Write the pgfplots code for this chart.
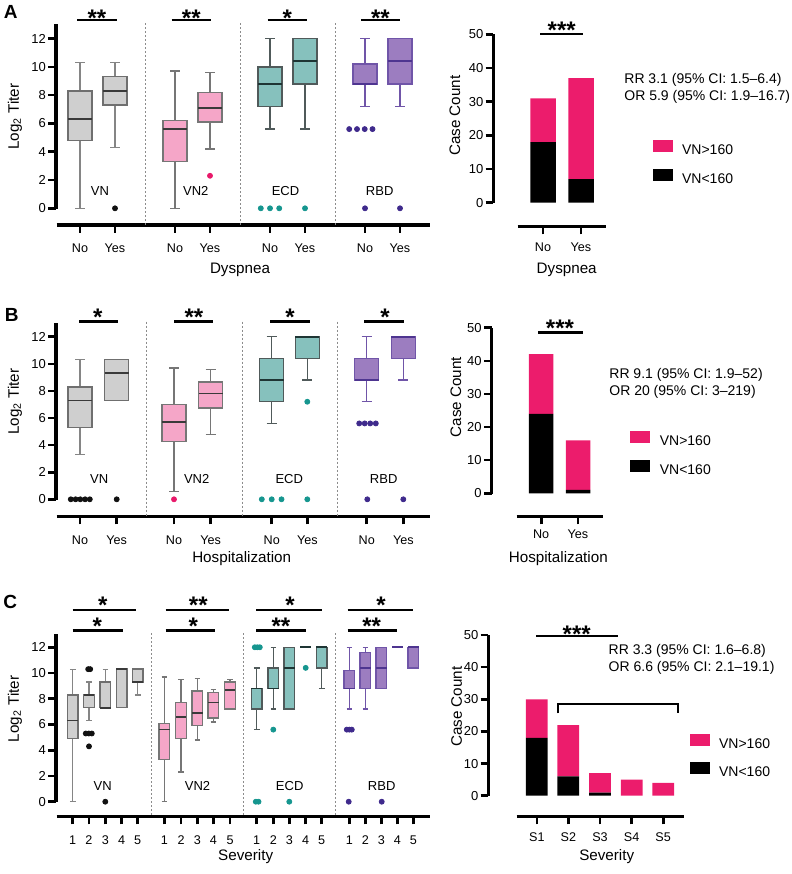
\documentclass[border=0pt]{standalone}
\usepackage{pgfplots}
\pgfplotsset{compat=1.18}
\usepackage{fontspec}
\setmainfont{Liberation Sans}
\definecolor{vnF}{HTML}{CFCFCF}
\definecolor{vnE}{HTML}{6F6F6F}
\definecolor{vnW}{HTML}{858585}
\definecolor{vnMd}{HTML}{3A3A3A}
\definecolor{vn2F}{HTML}{F5A6C8}
\definecolor{vn2E}{HTML}{767676}
\definecolor{ecdF}{HTML}{86C1BD}
\definecolor{ecdE}{HTML}{505A5A}
\definecolor{ecdMd}{HTML}{1E3534}
\definecolor{rbdF}{HTML}{9C7DC0}
\definecolor{rbdE}{HTML}{7055A8}
\definecolor{rbdMd}{HTML}{4E3590}
\definecolor{vnO}{HTML}{111111}
\definecolor{vn2O}{HTML}{E8196A}
\definecolor{ecdO}{HTML}{16968F}
\definecolor{rbdO}{HTML}{3F2A8C}
\definecolor{barP}{HTML}{EC1C6C}
\definecolor{sepC}{HTML}{8C8C8C}
\newcommand\fs[1]{\fontsize{#1}{#1}\selectfont}
% box: position, lower whisker, lower quartile, median, upper quartile, upper whisker, style prefix
\newcommand\bx[7]{%
  \pgfmathsetmacro\xl{#1-\bh}\pgfmathsetmacro\xr{#1+\bh}%
  \pgfmathsetmacro\cl{#1-\ch}\pgfmathsetmacro\cr{#1+\ch}%
  \addplot[#7SW] coordinates {(#1,#5) (#1,#6)};
  \addplot[#7SW] coordinates {(#1,#3) (#1,#2)};
  \addplot[#7SW] coordinates {(\cl,#6) (\cr,#6)};
  \addplot[#7SW] coordinates {(\cl,#2) (\cr,#2)};
  \addplot[#7SB] coordinates {(\xl,#3) (\xr,#3) (\xr,#5) (\xl,#5)} -- cycle;
  \addplot[#7SM] coordinates {(\xl,#4) (\xr,#4)};
}
\newcommand\stars[3]{\node[anchor=base, font=\fs{12}\bfseries, inner sep=0pt] at (#1,#2+13.8) {#3};}
\pgfplotsset{
  base/.style={scale only axis, clip=false, anchor=south west,
    axis x line*=bottom, axis y line*=left, axis line style={draw=none},
    tick align=outside, major tick length=3.8pt,
    tick style={black, line width=1.3pt},
    /pgf/number format/assume math mode=true,
    yticklabel style={font=\fs{6.5}, xshift=2.3pt},
    xticklabel style={font=\fs{6.3}},
  },
  boxax/.style={base, xmin=56, xmax=430, width=187pt, ymax=13, ytick={0,2,...,12},
    xticklabel style={yshift=-2.3pt}},
  barax/.style={base, ybar stacked, ymax=50, ytick={0,10,...,50},
    xticklabel style={yshift=-0.8pt},
    legend style={anchor=north west, draw=none, fill=none, inner sep=0pt, row sep=5.65pt, font=\fs{7}, nodes={inner xsep=4.7pt, inner ysep=0pt}},
    legend image code/.code={\fill[##1] (0pt,-0.5pt) rectangle (10pt,5.5pt);},
    reverse legend},
  vnSW/.style={draw=vnW, line width=0.65pt},
  vnSB/.style={fill=vnF, draw=vnE, line width=0.7pt},
  vnSM/.style={draw=vnMd, line width=0.8pt},
  vn2SW/.style={draw=vn2E, line width=0.65pt},
  vn2SB/.style={fill=vn2F, draw=vn2E, line width=0.7pt},
  vn2SM/.style={draw=vnMd, line width=0.8pt},
  ecdSW/.style={draw=ecdE, line width=0.65pt},
  ecdSB/.style={fill=ecdF, draw=ecdE, line width=0.7pt},
  ecdSM/.style={draw=ecdMd, line width=0.8pt},
  rbdSW/.style={draw=rbdE, line width=0.65pt},
  rbdSB/.style={fill=rbdF, draw=rbdE, line width=0.7pt},
  rbdSM/.style={draw=rbdMd, line width=0.8pt},
  outl/.style={only marks, mark=*, mark size=1.25pt},
}
\begin{document}
\begin{tikzpicture}
\useasboundingbox (0,0) rectangle (396pt,-437pt);
% ---------------- Panel A box plots
\def\bh{12}\def\ch{5}
\begin{axis}[boxax, at={(56*0.5pt,-225*0.5pt)}, height=100.3pt, ymin=-1.18,
  xtick={80,115,175,210,270,305,365,400}, xticklabels={No,Yes,No,Yes,No,Yes,No,Yes}]
\bx{80}{0}{4.8}{6.3}{8.3}{10.3}{vn}
\bx{115}{4.3}{7.3}{8.3}{9.3}{10.3}{vn}
\bx{175}{0}{3.3}{5.6}{6.2}{9.7}{vn2}
\bx{210}{4.2}{6.1}{7.1}{8.2}{9.6}{vn2}
\bx{270}{5.6}{7.2}{8.8}{10.0}{12}{ecd}
\bx{305}{5.6}{8.8}{10.4}{12}{12}{ecd}
\bx{365}{7.2}{8.8}{8.8}{10.2}{12}{rbd}
\bx{400}{7.2}{8.8}{10.4}{12}{12}{rbd}
\addplot[outl, color=vnO] coordinates {(115,0)};
\addplot[outl, color=vn2O] coordinates {(210,2.3)};
\addplot[outl, color=ecdO] coordinates {(260.8,0) (270,0) (279.2,0) (305,0)};
\addplot[outl, color=rbdO] coordinates {(349.2,5.6) (357,5.6) (364.7,5.6) (372.5,5.6) (365,0) (400,0)};
\end{axis}
% ---------------- Panel A bars
\begin{axis}[barax, at={(493.3*0.5pt,-226.7*0.5pt)}, width=56.35pt, height=96.2pt,
  xmin=493.3, xmax=606, ymin=-7.126, bar width=25.5,
  xtick={543,581}, xticklabels={No,Yes},
  legend style={at={(1.411,0.4506)}}]
\addplot[fill=black, draw=none] coordinates {(543,18) (581,7)};
\addplot[fill=barP, draw=none] coordinates {(543,13) (581,30)};
\legend{VN<160,VN>160}
\end{axis}
% ---------------- Panel B box plots
\begin{axis}[boxax, at={(56*0.5pt,-516.7*0.5pt)}, height=96.78pt, ymin=-1.284,
  xtick={80,116.7,174,210.7,271.7,307.3,366.7,403.3}, xticklabels={No,Yes,No,Yes,No,Yes,No,Yes}]
\bx{80}{3.3}{5.3}{7.3}{8.3}{10.3}{vn}
\bx{116.7}{7.3}{7.3}{9.3}{10.3}{10.3}{vn}
\bx{174}{0.56}{4.25}{5.7}{7.0}{9.7}{vn2}
\bx{210.7}{4.8}{6.75}{7.8}{8.65}{9.6}{vn2}
\bx{271.7}{5.6}{7.2}{8.8}{10.4}{12}{ecd}
\bx{307.3}{8.8}{10.4}{12}{12}{12}{ecd}
\bx{366.7}{7.2}{8.8}{8.8}{10.4}{12}{rbd}
\bx{403.3}{8.8}{10.4}{12}{12}{12}{rbd}
\addplot[outl, color=vnO] coordinates {(70.8,0) (75.6,0) (80.3,0) (85.1,0) (89.8,0) (116.7,0)};
\addplot[outl, color=vn2O] coordinates {(174,0)};
\addplot[outl, color=ecdO] coordinates {(261.8,0) (271.7,0) (281.5,0) (307.3,7.2) (307.3,0)};
\addplot[outl, color=rbdO] coordinates {(359.2,5.6) (364.7,5.6) (370.2,5.6) (375.8,5.6) (367.3,0) (403.3,0)};
\end{axis}
% ---------------- Panel B bars
\begin{axis}[barax, at={(491.7*0.5pt,-516.7*0.5pt)}, width=55.5pt, height=94.5pt,
  xmin=491.7, xmax=602.7, ymin=-7.07, bar width=24.5,
  xtick={541.2,578}, xticklabels={No,Yes}, xticklabel style={yshift=1.6pt},
  legend style={at={(1.246,0.4534)}}]
\addplot[fill=black, draw=none] coordinates {(541.2,24) (578,1)};
\addplot[fill=barP, draw=none] coordinates {(541.2,18) (578,15)};
\legend{VN<160,VN>160}
\end{axis}
% ---------------- Panel C box plots
\def\bh{5.25}\def\ch{2.8}
\begin{axis}[boxax, at={(56*0.5pt,-816.7*0.5pt)}, height=91.15pt, ymin=-1.166,
  xtick={72.7,89,105.3,121.7,137.7,164.3,181,197.3,213.3,230,256.7,273.3,289.3,305.7,321.7,349.3,365.3,381.3,397.3,413.3},
  xticklabels={1,2,3,4,5,1,2,3,4,5,1,2,3,4,5,1,2,3,4,5}]
\bx{72.7}{0}{4.9}{6.3}{8.3}{10.3}{vn}
\bx{89}{6.3}{7.3}{8.3}{8.3}{9.3}{vn}
\bx{105.3}{7.3}{7.3}{7.3}{9.3}{10.3}{vn}
\bx{121.7}{7.3}{7.3}{10.3}{10.3}{10.3}{vn}
\bx{137.7}{8.3}{9.3}{9.3}{10.3}{10.3}{vn}
\bx{164.3}{0}{3.3}{5.6}{6.1}{9.7}{vn2}
\bx{181}{2.3}{4.9}{6.6}{7.7}{9.5}{vn2}
\bx{197.3}{4.8}{5.9}{6.9}{8.6}{9.6}{vn2}
\bx{213.3}{6.2}{6.5}{7.7}{8.5}{8.7}{vn2}
\bx{230}{7.2}{7.2}{8.7}{9.3}{9.5}{vn2}
\bx{256.7}{5.6}{7.2}{8.8}{8.8}{10.4}{ecd}
\bx{273.3}{7.2}{8.8}{8.8}{10.4}{12}{ecd}
\bx{289.3}{7.2}{7.2}{10.4}{12}{12}{ecd}
\bx{305.7}{12}{12}{12}{12}{12}{ecd}
\bx{321.7}{8.8}{10.4}{12}{12}{12}{ecd}
\bx{349.3}{7.2}{8.8}{8.8}{10.2}{12}{rbd}
\bx{365.3}{7.2}{8.8}{10.4}{11.6}{12}{rbd}
\bx{381.3}{8.8}{8.8}{10.4}{12}{12}{rbd}
\bx{397.3}{12}{12}{12}{12}{12}{rbd}
\bx{413.3}{10.4}{10.4}{12}{12}{12}{rbd}
\addplot[outl, color=vnO] coordinates {(88.2,10.3) (90.2,10.3) (85.8,5.3) (88.8,5.3) (91.8,5.3) (89,4.3) (105.3,0)};
\addplot[outl, color=ecdO] coordinates {(254.8,12) (257.3,12) (259.8,12) (255.8,0) (258.5,0) (273.3,5.6) (289.3,0) (305.7,10.4)};
\addplot[outl, color=rbdO] coordinates {(346.8,5.6) (349.3,5.6) (351.8,5.6) (348.7,0) (381.7,0)};
\end{axis}
% ---------------- Panel C bars
\begin{axis}[barax, at={(488.3*0.5pt,-816.7*0.5pt)}, width=98pt, height=90.85pt,
  xmin=488.3, xmax=684.3, ymin=-6.53, bar width=21.7,
  xtick={536.8,568.3,600,631.7,663.2}, xticklabels={S1,S2,S3,S4,S5},
  legend style={at={(1.0255,0.459)}}]
\addplot[fill=black, draw=none] coordinates {(536.8,18) (568.3,6) (600,1) (631.7,0) (663.2,0)};
\addplot[fill=barP, draw=none] coordinates {(536.8,12) (568.3,16) (600,6) (631.7,5) (663.2,4)};
\legend{VN<160,VN>160}
\end{axis}
% ---------------- decorations in pixel coordinates
\begin{scope}[x=0.5pt,y=-0.5pt]
% axis lines
\draw[line width=1.6pt] (56,209) -- (56,24.4);
\draw[line width=1.6pt] (56.5,225) -- (430,225);
\draw[line width=1.6pt] (56,500) -- (56,323.2);
\draw[line width=1.6pt] (56.5,516.7) -- (430,516.7);
\draw[line width=1.6pt] (56,802.4) -- (56,634.4);
\draw[line width=1.6pt] (56.5,816.7) -- (430,816.7);
\draw[line width=1.6pt] (493.3,203.4) -- (493.3,34.3);
\draw[line width=1.6pt] (517.7,226.7) -- (606,226.7);
\draw[line width=1.6pt] (491.7,494) -- (491.7,327.7);
\draw[line width=1.6pt] (516.7,516.7) -- (602.7,516.7);
\draw[line width=1.6pt] (488.3,796.4) -- (488.3,635);
\draw[line width=1.6pt] (516.7,816.7) -- (684.3,816.7);
% dotted separators
\foreach \x in {145,240.7,335.7} \draw[sepC, line width=0.5pt, dash pattern=on 1pt off 1pt] (\x,23) -- (\x,225);
\foreach \x in {146.7,242.3,337.7} \draw[sepC, line width=0.5pt, dash pattern=on 1pt off 1pt] (\x,321.7) -- (\x,516.7);
\foreach \x in {151.7,243.3,335.7} \draw[sepC, line width=0.5pt, dash pattern=on 1pt off 1pt] (\x,633) -- (\x,816.7);
% panel letters
\node[anchor=base west, font=\fs{9.5}\bfseries, inner sep=0pt] at (3.5,18.3) {A};
\node[anchor=base west, font=\fs{9.5}\bfseries, inner sep=0pt] at (4.5,321.7) {B};
\node[anchor=base west, font=\fs{9.5}\bfseries, inner sep=0pt] at (3,608.3) {C};
% y titles
\node[rotate=90, font=\fs{7.6}, inner sep=0pt] at (15,116.7) {Log\textsubscript{2} Titer};
\node[rotate=90, font=\fs{7.6}, inner sep=0pt] at (15,401.7) {Log\textsubscript{2} Titer};
\node[rotate=90, font=\fs{7.6}, inner sep=0pt] at (15,709) {Log\textsubscript{2} Titer};
\node[rotate=90, font=\fs{7.6}, inner sep=0pt] at (455,115.8) {Case Count};
\node[rotate=90, font=\fs{7.6}, inner sep=0pt] at (456,397.2) {Case Count};
\node[rotate=90, font=\fs{7.6}, inner sep=0pt] at (456.7,706.7) {Case Count};
% x titles
\node[anchor=base, font=\fs{7.6}, inner sep=0pt] at (240,273.3) {Dyspnea};
\node[anchor=base, font=\fs{7.6}, inner sep=0pt] at (566.7,273.3) {Dyspnea};
\node[anchor=base, font=\fs{7.6}, inner sep=0pt] at (241.7,562.7) {Hospitalization};
\node[anchor=base, font=\fs{7.6}, inner sep=0pt] at (558.3,562.7) {Hospitalization};
\node[anchor=base, font=\fs{7.6}, inner sep=0pt] at (245.7,860.3) {Severity};
\node[anchor=base, font=\fs{7.6}, inner sep=0pt] at (606.7,860) {Severity};
% group labels
\foreach \x/\t in {100/VN,195.8/VN2,285.5/ECD,379.7/RBD} \node[anchor=base, font=\fs{6.5}, inner sep=0pt] at (\x,195.3) {\t};
\foreach \x/\t in {99.2/VN,196.7/VN2,289.3/ECD,383.7/RBD} \node[anchor=base, font=\fs{6.5}, inner sep=0pt] at (\x,483.3) {\t};
\foreach \x/\t in {102.7/VN,197.5/VN2,289.7/ECD,381.7/RBD} \node[anchor=base, font=\fs{6.5}, inner sep=0pt] at (\x,790) {\t};
% significance bars A
\foreach \a/\b in {77/117,171.7/211,267.7/306.7,361/400} \draw[line width=1.4pt] (\a,20) -- (\b,20);
\stars{97}{12.5}{**} \stars{191.3}{12.5}{**} \stars{287.2}{12.5}{*} \stars{380.5}{12.5}{**}
\draw[line width=1.4pt] (540,34) -- (583.3,34);
\stars{561.7}{25}{***}
% B
\foreach \a/\b in {79.3/118.3,174/213.3,270/310,364.3/404} \draw[line width=1.4pt] (\a,321.7) -- (\b,321.7);
\stars{97.7}{311.7}{*} \stars{194}{311.7}{**} \stars{290}{311.7}{*} \stars{385}{311.7}{*}
\draw[line width=1.4pt] (538.3,332.3) -- (583.3,332.3);
\stars{560}{322.7}{***}
% C
\foreach \a/\b in {72.7/136,165.7/229.3,256/321.7,347.7/413.3} \draw[line width=1.4pt] (\a,610) -- (\b,610);
\foreach \a/\b in {72.7/122.7,165.7/215,256/305.7,347.7/397.3} \draw[line width=1.4pt] (\a,630.7) -- (\b,630.7);
\stars{102.7}{599.3}{*} \stars{198.3}{599.3}{**} \stars{290}{599.3}{*} \stars{381}{599.3}{*}
\stars{97.3}{620.7}{*} \stars{193.3}{620.7}{*} \stars{281}{620.7}{**} \stars{371.7}{620.7}{**}
\draw[line width=1.4pt] (536,636) -- (618.3,636);
\stars{576.7}{628.3}{***}
\draw[line width=1.1pt] (558.3,713.3) -- (558.3,704) -- (677.7,704) -- (677.7,713.3);
% RR / OR text
\node[anchor=west, font=\fs{7}, inner sep=0pt] at (624,80) {RR 3.1 (95\% CI: 1.5–6.4)};
\node[anchor=west, font=\fs{7}, inner sep=0pt] at (624,96.7) {OR 5.9 (95\% CI: 1.9–16.7)};
\node[anchor=west, font=\fs{7}, inner sep=0pt] at (609,375) {RR 9.1 (95\% CI: 1.9–52)};
\node[anchor=west, font=\fs{7}, inner sep=0pt] at (609,391.7) {OR 20 (95\% CI: 3–219)};
\node[anchor=west, font=\fs{7}, inner sep=0pt] at (608.3,650.7) {RR 3.3 (95\% CI: 1.6–6.8)};
\node[anchor=west, font=\fs{7}, inner sep=0pt] at (608.3,668.3) {OR 6.6 (95\% CI: 2.1–19.1)};
\end{scope}
\end{tikzpicture}
\end{document}
